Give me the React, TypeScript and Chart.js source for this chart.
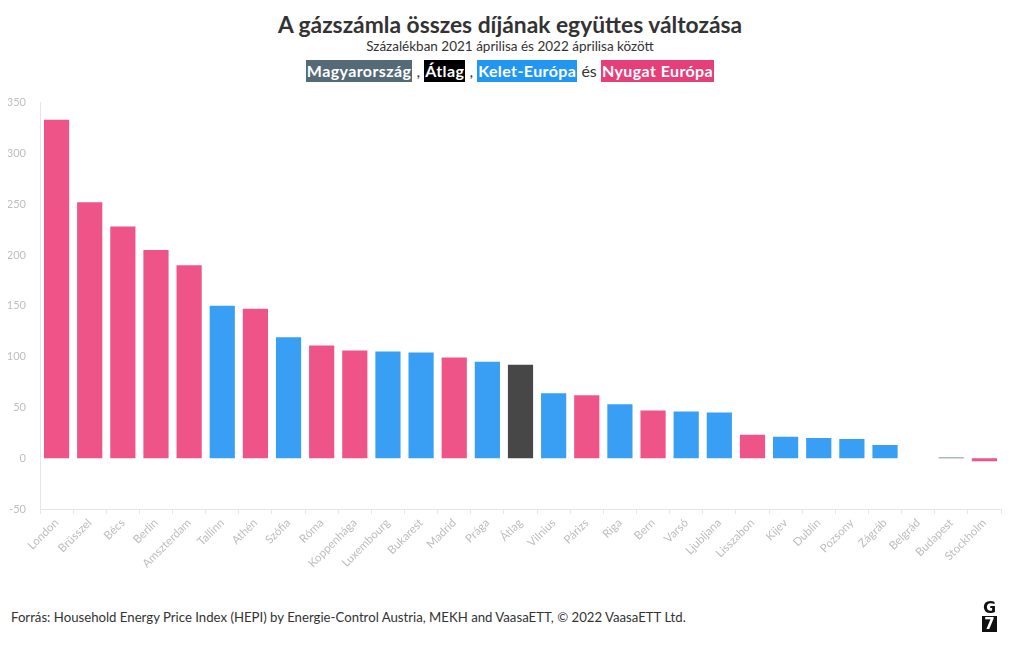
import React, { useEffect, useRef } from "react";
import { Chart, registerables } from "chart.js";

Chart.register(...registerables);

const categories = [
  "London", "Brüsszel", "Bécs", "Berlin", "Amszterdam", "Tallinn", "Athén", "Szófia", "Róma",
  "Koppenhága", "Luxembourg", "Bukarest", "Madrid", "Prága", "Átlag", "Vilnius", "Párizs",
  "Riga", "Bern", "Varsó", "Ljubljana", "Lisszabon", "Kijev", "Dublin", "Pozsony", "Zágráb",
  "Belgrád", "Budapest", "Stockholm",
];

const values: (number | null)[] = [
  333, 252, 228, 205, 190, 150, 147, 119, 111,
  106, 105, 104, 99, 95, 92, 64, 62,
  53, 47, 46, 45, 23, 21, 20, 19, 13,
  null, 0.8, -3,
];

// W = Nyugat Európa, E = Kelet-Európa, A = Átlag, H = Magyarország
const groups = [
  "W", "W", "W", "W", "W", "E", "W", "E", "W",
  "W", "E", "E", "W", "E", "A", "E", "W",
  "E", "W", "E", "E", "W", "E", "E", "E", "E",
  "E", "H", "W",
];

const yTicks = [-50, 0, 50, 100, 150, 200, 250, 300, 350];

const groupColors: Record<string, string> = {
  W: "#ee5487",
  E: "#389ff4",
  A: "#474747",
  H: "#5f7480",
};

const FONT = "'Source Sans Pro', Lato, 'Open Sans', sans-serif";

export default function App() {
  const canvasRef = useRef<HTMLCanvasElement | null>(null);

  useEffect(() => {
    if (!canvasRef.current) return;
    const chart = new Chart(canvasRef.current, {
      type: "bar",
      data: {
        labels: categories,
        datasets: [
          {
            data: values,
            backgroundColor: groups.map((g) => groupColors[g]),
            borderWidth: 0,
            barPercentage: 0.76,
            categoryPercentage: 1,
          },
        ],
      },
      options: {
        animation: false,
        responsive: false,
        maintainAspectRatio: false,
        layout: { padding: { top: 12, right: 11, left: 0, bottom: 0 } },
        plugins: {
          legend: { display: false },
          tooltip: { enabled: false },
          title: { display: false },
        },
        scales: {
          x: {
            grid: {
              display: true,
              drawOnChartArea: false,
              drawTicks: true,
              tickLength: 5,
              color: "#e6e6e6",
            },
            border: { display: true, color: "#e6e6e6" },
            ticks: {
              autoSkip: false,
              minRotation: 45,
              maxRotation: 45,
              color: "#bdbdbd",
              font: { family: FONT, size: 11.5 },
              padding: 2,
            },
            afterFit: (scale: any) => {
              scale.height = 91;
            },
          },
          y: {
            min: -50,
            max: 350,
            afterBuildTicks: (scale: any) => {
              scale.ticks = yTicks.map((v) => ({ value: v }));
            },
            grid: { display: false },
            border: { display: true, color: "#e6e6e6" },
            ticks: {
              color: "#bdbdbd",
              font: { family: FONT, size: 11 },
              padding: 6,
            },
            afterFit: (scale: any) => {
              scale.width = 32;
            },
          },
        },
      },
    });
    return () => chart.destroy();
  }, []);

  const tag = (text: string, bg: string) => (
    <span
      style={{
        background: bg,
        color: "#fff",
        fontWeight: 700,
        padding: "1px 1px 2px 1px",
        letterSpacing: 0.4,
      }}
    >
      {text}
    </span>
  );

  return (
    <div style={{ position: "relative", width: 1004, height: 634, fontFamily: FONT, color: "#333" }}>
      <div
        style={{
          position: "absolute",
          top: 1,
          left: 0,
          width: 1004,
          textAlign: "center",
          fontSize: 22.8,
          fontWeight: 700,
          color: "#333",
          lineHeight: "30px",
        }}
      >
        A gázszámla összes díjának együttes változása
      </div>
      <div
        style={{
          position: "absolute",
          top: 29,
          left: 0,
          width: 1004,
          textAlign: "center",
          fontSize: 13.5,
          color: "#333",
          lineHeight: "18px",
        }}
      >
        Százalékban 2021 áprilisa és 2022 áprilisa között
      </div>
      <div
        style={{
          position: "absolute",
          top: 52,
          left: 0,
          width: 1004,
          textAlign: "center",
          fontSize: 16,
          color: "#333",
          lineHeight: "22px",
        }}
      >
        {tag("Magyarország", "#546a76")} , {tag("Átlag", "#000000")} , {tag("Kelet-Európa", "#2196f3")} és{" "}
        {tag("Nyugat Európa", "#e63e79")}
      </div>
      <canvas
        ref={canvasRef}
        width={1004}
        height={510}
        style={{ position: "absolute", left: 0, top: 82, width: 1004, height: 510 }}
      />
      <div
        style={{
          position: "absolute",
          top: 600,
          left: 3,
          fontSize: 13.2,
          color: "#333",
          fontFamily: "'Liberation Sans Narrow', 'Source Sans Pro', Lato, sans-serif",
          lineHeight: "18px",
        }}
      >
        Forrás: Household Energy Price Index (HEPI) by Energie-Control Austria, MEKH and VaasaETT, © 2022 VaasaETT Ltd.
      </div>
      <div
        style={{
          position: "absolute",
          top: 592,
          left: 974,
          width: 15,
          textAlign: "center",
          fontFamily: "'DejaVu Sans', sans-serif",
          fontWeight: 700,
        }}
      >
        <div style={{ fontSize: 16, color: "#111", lineHeight: "15px" }}>G</div>
        <div style={{ fontSize: 15, color: "#fff", background: "#111", marginTop: 1, lineHeight: "16px" }}>7</div>
      </div>
    </div>
  );
}
